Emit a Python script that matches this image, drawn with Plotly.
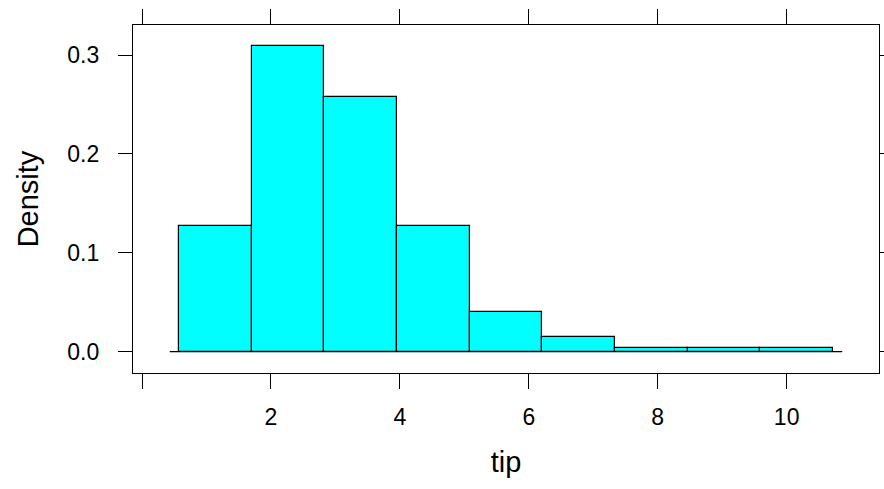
import plotly.graph_objects as go

# Histogram of tips: bin edges and densities
bin_start = 0.57
bin_width = 1.128
densities = [0.1272, 0.3089, 0.2580, 0.1272, 0.0400, 0.0145, 0.0036, 0.0036, 0.0036]
x_ticks = [0, 2, 4, 6, 8, 10]
x_tick_labels = ["", "2", "4", "6", "8", "10"]
y_ticks = [0.0, 0.1, 0.2, 0.3]
y_tick_labels = ["0.0", "0.1", "0.2", "0.3"]

edges = [bin_start + i * bin_width for i in range(len(densities) + 1)]
centers = [(edges[i] + edges[i + 1]) / 2 for i in range(len(densities))]
span = edges[-1] - edges[0]
pad = 0.0138 * span

xr = [edges[0] - 0.07 * span, edges[-1] + 0.07 * span]
ymax = max(densities)
yr = [-0.07 * ymax, ymax * 1.07]

fig = go.Figure()
fig.add_trace(go.Scatter(
    x=[edges[0] - pad, edges[-1] + pad], y=[0, 0], mode="lines",
    line=dict(color="black", width=1.3), hoverinfo="skip", showlegend=False))
fig.add_trace(go.Bar(
    x=centers, y=densities, width=[bin_width] * len(densities),
    marker=dict(color="#00FFFF", line=dict(color="black", width=1.2)),
    showlegend=False))

font = dict(family="Liberation Sans, Arial, sans-serif", color="black")
fig.update_layout(
    width=884, height=489,
    margin=dict(l=133, r=5, t=25, b=116),
    plot_bgcolor="white", paper_bgcolor="white",
    font=dict(size=23, **font),
    bargap=0,
    xaxis=dict(
        range=xr, tickvals=x_ticks, ticktext=x_tick_labels,
        ticks="outside", ticklen=15, tickwidth=1.2, tickcolor="black",
        showline=True, linecolor="black", linewidth=1.2, mirror="ticks",
        showgrid=False, zeroline=False, automargin=False,
        title=dict(text="tip", font=dict(size=29, **font), standoff=22),
        ticklabelstandoff=8,
    ),
    yaxis=dict(
        range=yr, tickvals=y_ticks, ticktext=y_tick_labels,
        ticks="outside", ticklen=14, tickwidth=1.2, tickcolor="black",
        showline=True, linecolor="black", linewidth=1.2, mirror="ticks",
        showgrid=False, zeroline=False, automargin=False,
        title=dict(text="Density", font=dict(size=29, **font), standoff=20),
        ticklabelstandoff=14,
    ),
)
fig.write_html("out.html")
